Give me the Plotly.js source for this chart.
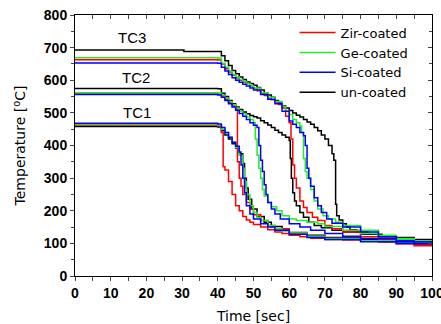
<!DOCTYPE html>
<html><head><meta charset="utf-8">
<script src="https://cdn.plot.ly/plotly-3.0.1.min.js"></script>
<style>html,body{margin:0;padding:0;background:#fff}#chart{width:441px;height:324px}</style>
</head><body><div id="chart"></div>
<script>
// ---- data (time in s, temperature in °C) ----
const seriesNames = ["Zir-coated", "Ge-coated", "Si-coated", "un-coated"];
const seriesColors = ["#ff0000", "#22ee22", "#0000ff", "#000000"];

// TC1
const zirTC1_t = [0,10,20,30,40,41,41.5,42,43,44,45,46,47,48,49,50,52,54,56,58,60,63,66,70,75,80,85,90,95,100];
const zirTC1_y = [463,463,463,463,460,440,335,325,290,250,215,200,182,172,165,158,150,142,135,130,125,120,116,112,110,107,104,100,96,95];
const geTC1_t = [0,10,20,30,40,41,42,43,44,45,46,47,47.5,48,49,50,51,52,54,56,58,60,65,70,80,90,100];
const geTC1_y = [465,465,465,465,463,450,440,425,410,395,370,330,290,250,215,195,180,170,155,145,138,132,122,115,108,102,98];
const siTC1_t = [0,10,20,30,40,41,42,43,44,45,46,46.5,47,47.5,48,49,50,52,54,56,60,65,70,80,90,100];
const siTC1_y = [468,468,468,468,466,455,440,425,410,398,380,340,300,255,215,190,175,160,150,140,128,118,112,105,100,97];
const unTC1_t = [0,10,20,30,40,41,42,43,44,45,46,47,47.5,48,48.5,49.5,51,53,55,58,60,65,70,80,90,100];
const unTC1_y = [458,458,458,458,457,445,432,420,405,392,375,345,300,270,235,205,182,165,152,140,133,125,118,112,106,102];

// TC2
const zirTC2_t = [0,10,20,30,40,41,42,43,44,45,45.5,46,46.5,47,48,49,50,52,54,56,60,65,70,80,90,100];
const zirTC2_y = [558,558,558,558,557,552,542,532,522,515,350,300,275,250,225,205,188,170,155,145,132,122,115,108,100,95];
const geTC2_t = [0,10,20,30,40,41,42,43,44,45,46,47,48,49,50,50.5,51,51.5,52,52.5,53,54,55,56.5,58,60,62,65,68,70,75,80,85,90,95,100];
const geTC2_y = [562,562,562,562,561,555,545,535,525,515,505,497,488,480,470,420,370,330,300,265,245,225,212,200,185,175,170,165,160,152,140,130,120,112,108,105];
const siTC2_t = [0,10,20,30,40,41,42,43,44,45,46,47,48,49,50,51,51.5,52,52.5,53,53.5,54,55,56,57.5,60,63,66,70,75,80,90,100];
const siTC2_y = [556,556,556,556,555,548,538,528,518,508,498,490,480,470,462,455,400,355,320,280,250,225,205,190,175,160,150,140,130,122,115,105,98];
const unTC2_t = [0,10,20,30,40,41,42,43,44,45,46,47,48,49,50,51,52,53,54,55,56,57,58,59,60,60.3,60.6,61,61.5,62,63,64,65.5,67,69,72,75,80,85,90,95,100];
const unTC2_y = [575,575,575,575,574,560,550,538,528,518,510,503,497,492,488,484,476,470,463,455,447,440,432,425,415,360,300,255,230,215,195,180,165,155,148,140,135,128,120,114,108,105];

// TC3
const zirTC3_t = [0,10,20,30,40,41,42,43,44,45,46,47,48,49,50,51,52,53,54,55,56,57,58,59,60,60.5,61,61.5,62,63,64,65,66.5,68,70,72,75,80,85,90,95,100];
const zirTC3_y = [663,663,663,663,662,650,635,625,615,607,600,595,590,582,575,568,561,553,546,540,533,526,515,490,470,420,340,300,270,230,210,195,180,170,155,145,135,120,110,100,93,92];
const geTC3_t = [0,10,20,30,40,41,42,43,44,45,46,47,48,49,50,52,54,56,58,59,60,61,62,63,63.5,64,64.5,65,66,67,68,69.5,71,73,75,80,85,90,95,100];
const geTC3_y = [669,669,669,669,668,652,640,628,618,610,602,596,590,583,576,562,548,535,520,505,495,480,470,460,440,360,320,300,265,230,205,185,175,165,155,140,125,115,108,105];
const siTC3_t = [0,10,20,30,40,41,42,43,44,45,46,47,48,49,50,52,54,56,58,60,61,62,63,64,64.5,65,65.5,66,67,68,69,70.5,72,75,80,85,90,95,100];
const siTC3_y = [653,653,653,653,652,640,628,618,608,600,594,588,582,576,570,556,542,528,505,475,465,455,440,430,400,330,300,275,240,215,195,175,162,150,135,120,108,100,97];
const unTC3_t = [0,10,20,30,30.5,40,41,42,43,44,45,46,47,48,49,50,51,52,53,54,55,56,57,58,59,60,61,62,63,64,65,66,67,68,69,70,71,72,72.5,73,73.3,74,75,76,77,79,82,86,90,95,100];
const unTC3_y = [693,693,693,693,688,688,675,660,645,630,620,610,602,595,590,585,578,570,562,555,548,538,530,522,515,507,500,493,487,480,472,465,455,445,432,420,400,375,355,220,185,172,160,150,142,135,128,122,118,112,110];

const groups = [
  [[zirTC1_t, zirTC1_y], [geTC1_t, geTC1_y], [siTC1_t, siTC1_y], [unTC1_t, unTC1_y]],
  [[zirTC2_t, zirTC2_y], [geTC2_t, geTC2_y], [siTC2_t, siTC2_y], [unTC2_t, unTC2_y]],
  [[zirTC3_t, zirTC3_y], [geTC3_t, geTC3_y], [siTC3_t, siTC3_y], [unTC3_t, unTC3_y]]
];
const tcLabels = ["TC1", "TC2", "TC3"];
const tcLabelX = [17.5, 17, 16];
const tcLabelY = [500, 607, 730];

const traces = [];
const order = [3, 0, 1, 2];
order.forEach(function (s) {
  groups.forEach(function (g, gi) {
    traces.push({
      x: g[s][0], y: g[s][1], type: "scatter", mode: "lines",
      line: {shape: "hv", color: seriesColors[s], width: 1.5},
      name: seriesNames[s], legendgroup: seriesNames[s],
      showlegend: gi === 0, legendrank: s + 1, hoverinfo: "skip"
    });
  });
});
// empty trace so the mirrored (top/right) axes get drawn
traces.push({x: [], y: [], xaxis: "x2", yaxis: "y2", showlegend: false, type: "scatter"});

const tickFont = {family: "Liberation Sans, Arial, sans-serif", size: 14, color: "#000", weight: "bold"};
const textFont = {family: "DejaVu Sans, sans-serif", size: 13, color: "#000"};
const layout = {
  width: 441, height: 324,
  margin: {l: 75, r: 9, t: 15, b: 48},
  paper_bgcolor: "#fff", plot_bgcolor: "#fff",
  showlegend: true,
  legend: {x: 0.615, y: 0.99, xanchor: "left", yanchor: "top", bgcolor: "rgba(0,0,0,0)",
           font: textFont, itemwidth: 36, tracegroupgap: 0, traceorder: "normal"},
  xaxis: {range: [0, 100], dtick: 10, tick0: 0, ticks: "outside", ticklen: 4, tickwidth: 1,
          minor: {dtick: 5, ticks: "outside", ticklen: 4, tickwidth: 1},
          showgrid: false, zeroline: false, showline: true, linecolor: "#000", linewidth: 1,
          tickfont: tickFont, ticklabeloverflow: "allow", fixedrange: true,
          title: {text: "Time [sec]", font: {family: "DejaVu Sans, sans-serif", size: 14, color: "#000"}, standoff: 13}},
  yaxis: {range: [0, 800], dtick: 100, tick0: 0, ticks: "outside", ticklen: 4, tickwidth: 1,
          minor: {dtick: 50, ticks: "outside", ticklen: 3, tickwidth: 1},
          showgrid: false, zeroline: false, showline: true, linecolor: "#000", linewidth: 1,
          tickfont: tickFont, ticklabeloverflow: "allow", fixedrange: true,
          title: {text: "Temperature [<sup>o</sup>C]", font: {family: "DejaVu Sans, sans-serif", size: 14, color: "#000"}, standoff: 14}},
  xaxis2: {overlaying: "x", side: "top", anchor: "y2", range: [0, 100], dtick: 10, ticks: "inside", ticklen: 4,
           minor: {dtick: 5, ticks: "inside", ticklen: 4}, showticklabels: false, showgrid: false, zeroline: false,
           showline: true, linecolor: "#000", linewidth: 1, fixedrange: true},
  yaxis2: {overlaying: "y", side: "right", anchor: "x2", range: [0, 800], dtick: 100, ticks: "inside", ticklen: 4,
           minor: {dtick: 50, ticks: "inside", ticklen: 3}, showticklabels: false, showgrid: false, zeroline: false,
           showline: true, linecolor: "#000", linewidth: 1, fixedrange: true},
  annotations: tcLabels.map(function (t, i) {
    return {x: tcLabelX[i], y: tcLabelY[i], xref: "x", yref: "y", text: t, showarrow: false,
            font: {family: "Liberation Sans, Arial, sans-serif", size: 15, color: "#000"}};
  })
};
Plotly.newPlot("chart", traces, layout, {staticPlot: true, displayModeBar: false});
</script></body></html>
